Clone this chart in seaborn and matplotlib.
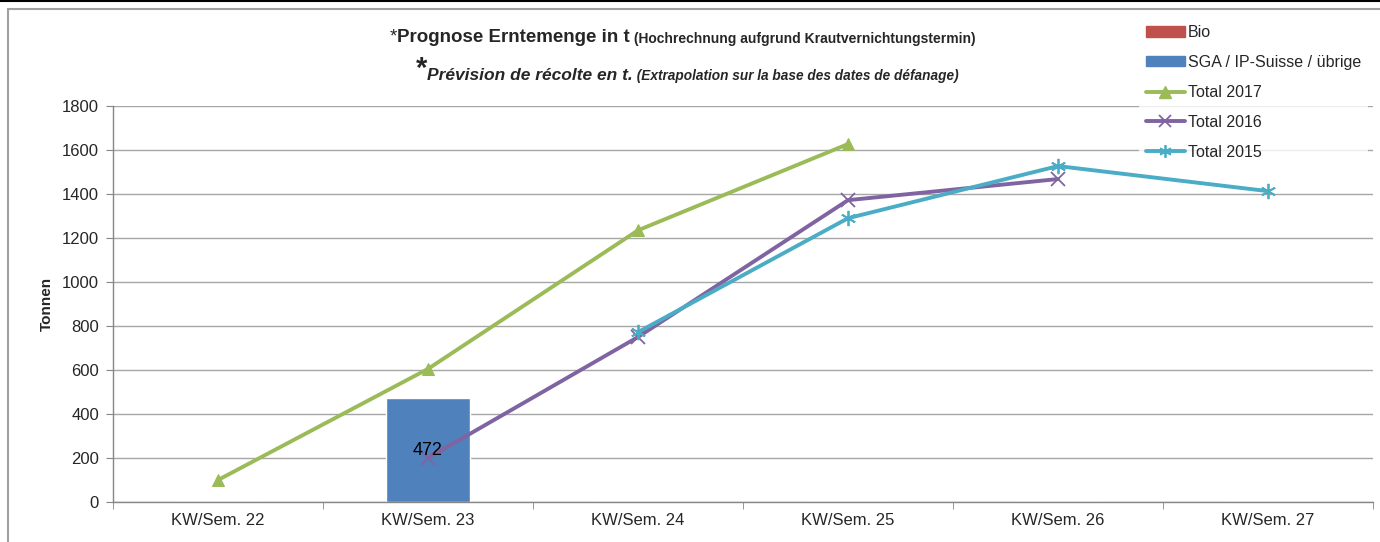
import numpy as np
import pandas as pd
import matplotlib
matplotlib.use("Agg")
import matplotlib.pyplot as plt
from matplotlib.lines import Line2D
from matplotlib.patches import Patch
import seaborn as sns

# Daten
weeks = ["KW/Sem. 22", "KW/Sem. 23", "KW/Sem. 24", "KW/Sem. 25", "KW/Sem. 26", "KW/Sem. 27"]
bio = [0, 0, 0, 0, 0, 0]
sga = [0, 472, 0, 0, 0, 0]
total_2017 = [100, 605, 1235, 1627, np.nan, np.nan]
total_2016 = [np.nan, 200, 750, 1372, 1468, np.nan]
total_2015 = [np.nan, np.nan, 772, 1290, 1527, 1413]

c_bio = "#C0504D"
c_sga = "#4F81BD"
c_2017 = "#9BBB59"
c_2016 = "#8064A2"
c_2015 = "#4BACC6"

sns.set_style("white")
plt.rcParams["font.family"] = ["Liberation Sans", "DejaVu Sans"]

fig = plt.figure(figsize=(13.8, 5.42), dpi=100)
ax = fig.add_axes([113 / 1380, 40 / 542, 1260 / 1380, 396 / 542])

# Balken (gestapelt: Bio unten, SGA oben)
sns.barplot(x=weeks, y=bio, color=c_bio, width=0.4, saturation=1, ax=ax)
sns.barplot(x=weeks, y=sga, color=c_sga, width=0.4, saturation=1, ax=ax)
for cont in ax.containers[1:]:
    labels = [f"{v:.0f}" if v > 0 else "" for v in cont.datavalues]
    txts = ax.bar_label(cont, labels=labels, label_type="center", fontsize=13, color="black")
    for t in txts:
        t.set_zorder(6)

# Linien
pos = np.arange(len(weeks))
df = pd.DataFrame({"pos": pos, "t2017": total_2017, "t2016": total_2016, "t2015": total_2015})
sns.lineplot(data=df, x="pos", y="t2017", color=c_2017, lw=2.8, marker="^", ms=9,
             mec=c_2017, ax=ax, zorder=4)
sns.lineplot(data=df, x="pos", y="t2016", color=c_2016, lw=2.8, marker="x", ms=10,
             mew=1.3, mec=c_2016, ax=ax, zorder=3)
sns.lineplot(data=df, x="pos", y="t2015", color=c_2015, lw=2.8, marker=(6, 2, 0), ms=11,
             mew=1.3, mec=c_2015, ax=ax, zorder=3)

ax.set_xlim(-0.5, len(weeks) - 0.5)
ax.set_ylim(0, 1800)
ax.set_yticks(range(0, 1801, 200))
ax.set_xticks(pos)
ax.set_xticklabels(weeks)
ax.set_xticks(np.arange(-0.5, len(weeks), 1), minor=True)
ax.set_xlabel("")
ax.set_ylabel("Tonnen", fontsize=11, fontweight="bold", labelpad=6)
ax.yaxis.grid(True, color="#A6A6A6", lw=1)
ax.set_axisbelow(True)
for s in ["top", "right"]:
    ax.spines[s].set_visible(False)
for s in ["left", "bottom"]:
    ax.spines[s].set_color("#868686")
    ax.spines[s].set_linewidth(1)
ax.tick_params(axis="y", which="major", length=5, color="#868686", direction="out",
               left=True, labelsize=12, pad=5)
ax.tick_params(axis="x", which="major", length=0, labelsize=12, pad=8)
ax.tick_params(axis="x", which="minor", length=5, color="#868686", direction="out", bottom=True)

# Legende
handles = [
    Patch(color=c_bio),
    Patch(color=c_sga),
    Line2D([], [], color=c_2017, lw=2.8, marker="^", ms=8),
    Line2D([], [], color=c_2016, lw=2.8, marker="x", ms=8, mew=1.3),
    Line2D([], [], color=c_2015, lw=2.8, marker=(6, 2, 0), ms=9, mew=1.3),
]
leg = fig.legend(handles, ["Bio", "SGA / IP-Suisse / übrige", "Total 2017", "Total 2016", "Total 2015"],
                 loc="upper left", bbox_to_anchor=(1131 / 1380, 1 - 10 / 542), fontsize=11.5,
                 frameon=True, facecolor="white", edgecolor="none", fancybox=False,
                 handlelength=2.4, handleheight=0.6, handletextpad=0.2, labelspacing=0.93,
                 borderpad=0.45)
leg.set_zorder(10)

# Titel
t1 = fig.text(390 / 1380, 1 - 37 / 542, "*", fontsize=13.5, va="center", ha="left")
t2 = ax.annotate("Prognose Erntemenge in t", xy=(1, 0), xycoords=t1, va="bottom",
                 fontsize=13.5, fontweight="bold", annotation_clip=False)
ax.annotate(" (Hochrechnung aufgrund Krautvernichtungstermin)", xy=(1, 0), xycoords=t2,
            va="bottom", fontsize=10, fontweight="bold", annotation_clip=False)
s1 = fig.text(416 / 1380, 1 - 77 / 542, "*", fontsize=21, fontweight="bold", va="baseline", ha="left")
s2 = ax.annotate("Prévision de récolte en t.", xy=(1, 0), xycoords=s1, va="bottom",
                 fontsize=12.5, fontweight="bold", fontstyle="italic", annotation_clip=False)
ax.annotate(" (Extrapolation sur la base des dates de défanage)", xy=(1, 0), xycoords=s2,
            va="bottom", fontsize=9.8, fontweight="bold", fontstyle="italic", annotation_clip=False)

# Rahmen
fig.add_artist(Line2D([0, 1], [0.999, 0.999], transform=fig.transFigure, color="black", lw=1.5))
fig.add_artist(Line2D([8 / 1380, 1], [1 - 9 / 542, 1 - 9 / 542], transform=fig.transFigure,
                      color="#A0A0A0", lw=1.5))
fig.add_artist(Line2D([8 / 1380, 8 / 1380], [0, 1 - 9 / 542], transform=fig.transFigure,
                      color="#A0A0A0", lw=1.5))

fig.savefig("out.png", dpi=100)
